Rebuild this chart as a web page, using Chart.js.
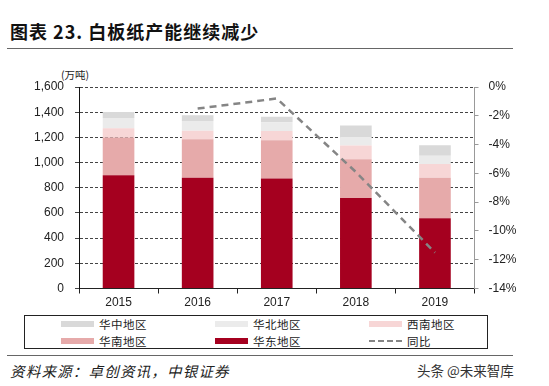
<!DOCTYPE html>
<html>
<head>
<meta charset="utf-8">
<script src="https://cdn.jsdelivr.net/npm/chart.js@4.4.1/dist/chart.umd.min.js"></script>
<style>
  html, body { margin: 0; padding: 0; background: #fff; }
  body { width: 549px; height: 386px; position: relative; overflow: hidden; font-family: "Liberation Sans", Arial, sans-serif; }
  #title { position: absolute; left: 10px; top: 19px; font-family: "Noto Sans CJK SC", sans-serif; font-weight: 700; font-size: 18px; letter-spacing: 1px; color: #111; line-height: 24px; white-space: nowrap; }
  #rule1 { position: absolute; left: 7px; top: 48px; width: 506px; height: 0; border-top: 1.5px solid #666; }
  #unit { position: absolute; left: 61px; top: 68px; font-family: "Noto Sans CJK SC", sans-serif; font-size: 10.5px; color: #222; line-height: 14px; white-space: nowrap; }
  #c { position: absolute; left: 0; top: 60px; }
  #legend { position: absolute; left: 24px; top: 315px; width: 462px; height: 32px; border: 1px solid #222; }
  .li { position: absolute; height: 14px; display: flex; align-items: center; white-space: nowrap; font-family: "Noto Sans CJK SC", sans-serif; font-size: 11.5px; letter-spacing: 0.5px; color: #222; }
  .sw { width: 33px; height: 6px; margin-right: 5px; }
  .swl { width: 33px; height: 0; margin-right: 5px; border-top: 2px dashed #888; }
  #rule2 { position: absolute; left: 7px; top: 355px; width: 506px; height: 0; border-top: 1.5px solid #666; }
  #src { position: absolute; left: 10px; top: 361px; font-family: "Noto Sans CJK SC", sans-serif; font-style: italic; font-size: 14.5px; letter-spacing: 1.2px; color: #222; line-height: 20px; white-space: nowrap; }
  #wm { position: absolute; left: 417px; top: 361px; font-family: "Noto Sans CJK SC", sans-serif; font-size: 13.5px; color: #333; line-height: 18px; white-space: nowrap; }
</style>
</head>
<body>
<div id="title">图表 23. 白板纸产能继续减少</div>
<div id="rule1"></div>
<div id="unit">(万吨)</div>
<canvas id="c" width="549" height="252"></canvas>
<div id="legend"></div>
<div id="rule2"></div>
<div id="src">资料来源：卓创资讯，中银证券</div>
<div id="wm">头条 @未来智库</div>
<script>
// ---- data ----
const categories = ["2015", "2016", "2017", "2018", "2019"];
const eastChina = [900, 880, 873, 718, 557];        // 华东地区
const southChina = [300, 305, 305, 308, 323];       // 华南地区
const southwestChina = [73, 67, 72, 109, 109];      // 西南地区
const northChina = [81, 78, 70, 67, 65];            // 华北地区
const centralChina = [48, 46, 44, 92, 83];          // 华中地区
const yoy = [null, -1.5, -0.8, -5.9, -11.5];        // 同比 (%)
const leftTicks = [0, 200, 400, 600, 800, 1000, 1200, 1400, 1600];
const rightTicks = [0, -2, -4, -6, -8, -10, -12, -14];

const datasets = [
  { label: "华东地区", data: eastChina, backgroundColor: "#A5001F" },
  { label: "华南地区", data: southChina, backgroundColor: "#E6AAAA" },
  { label: "西南地区", data: southwestChina, backgroundColor: "#F7D6D6" },
  { label: "华北地区", data: northChina, backgroundColor: "#EBEBEB" },
  { label: "华中地区", data: centralChina, backgroundColor: "#D9D9D9" }
].map(d => Object.assign(d, { type: "bar", yAxisID: "y", stack: "s", order: 1,
  barPercentage: 0.4, categoryPercentage: 1.0, borderWidth: 0 }));

datasets.push({ type: "line", label: "同比", data: yoy, yAxisID: "y1", order: 0,
  borderColor: "#858585", borderWidth: 2.5, borderDash: [7, 5], pointRadius: 0,
  fill: false, tension: 0, spanGaps: false });

const tickFont = { family: "'Liberation Sans', Arial, sans-serif", size: 12 };

const chart = new Chart(document.getElementById("c"), {
  data: { labels: categories, datasets },
  options: {
    responsive: false, animation: false, devicePixelRatio: 1,
    layout: { padding: { top: 27, left: 0, right: 0, bottom: 0 } },
    plugins: { legend: { display: false }, tooltip: { enabled: false } },
    scales: {
      x: {
        stacked: true, offset: true,
        grid: { display: true, drawOnChartArea: false, drawTicks: true, tickLength: 5, color: "#222", offset: true },
        border: { display: true, color: "#222", width: 1 },
        ticks: { font: tickFont, color: "#222", padding: 2, maxRotation: 0 },
        afterFit: s => { s.height = 23.5; }
      },
      y: {
        position: "left", stacked: true, min: 0, max: 1600,
        afterBuildTicks: s => { s.ticks = leftTicks.map(v => ({ value: v })); },
        ticks: { font: tickFont, color: "#222", padding: 11,
          callback: v => v.toLocaleString("en-US") },
        grid: { color: "#444", lineWidth: 1, tickLength: 4, drawTicks: true },
        border: { display: true, color: "#111", width: 1, dash: [3, 2] },
        afterFit: s => { s.width = 79; }
      },
      y1: {
        position: "right", min: -14, max: 0,
        afterBuildTicks: s => { s.ticks = rightTicks.map(v => ({ value: v })); },
        ticks: { font: tickFont, color: "#222", padding: 10, callback: v => v + "%" },
        grid: { drawOnChartArea: false, drawTicks: true, tickLength: 4, color: "#999" },
        border: { display: true, color: "#999", width: 1 },
        afterFit: s => { s.width = 549 - 474.5; }
      }
    }
  }
});

// ---- HTML legend built from the chart datasets ----
const legendOrder = ["华中地区", "华北地区", "西南地区", "华南地区", "华东地区", "同比"];
const colX = [36, 190, 344];
const rowY = [1, 18];
const legend = document.getElementById("legend");
legendOrder.forEach((name, i) => {
  const ds = chart.data.datasets.find(d => d.label === name);
  const item = document.createElement("div");
  item.className = "li";
  item.style.left = colX[i % 3] + "px";
  item.style.top = rowY[Math.floor(i / 3)] + "px";
  const sw = document.createElement("div");
  if (ds.type === "line") { sw.className = "swl"; sw.style.borderTopColor = ds.borderColor; }
  else { sw.className = "sw"; sw.style.background = ds.backgroundColor; }
  item.appendChild(sw);
  const t = document.createElement("span");
  t.textContent = ds.label;
  item.appendChild(t);
  legend.appendChild(item);
});
</script>
</body>
</html>
